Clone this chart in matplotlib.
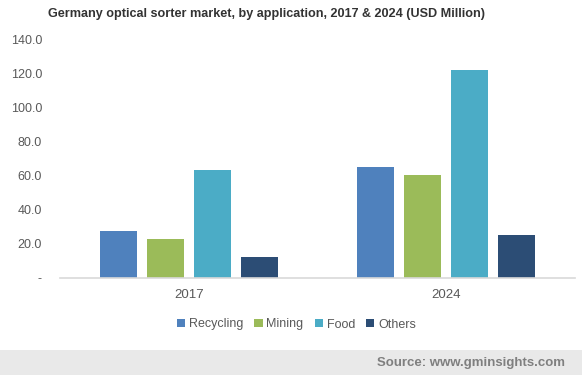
import matplotlib
matplotlib.use("Agg")
import matplotlib.pyplot as plt
import numpy as np
from matplotlib.patches import Rectangle

years = ["2017", "2024"]
series = ["Recycling", "Mining", "Food", "Others"]
recycling = [27.4, 65.0]
mining = [22.6, 60.3]
food = [63.2, 122.0]
others = [12.0, 25.0]
values = [recycling, mining, food, others]
colors = ["#4F81BD", "#9BBB59", "#4BACC6", "#2C4D75"]
yticks = [0, 20, 40, 60, 80, 100, 120, 140]
ytick_labels = ["-", "20.0", "40.0", "60.0", "80.0", "100.0", "120.0", "140.0"]

plt.rcParams['font.family'] = ['Liberation Sans', 'DejaVu Sans']

fig = plt.figure(figsize=(5.82, 3.75), dpi=100)
ax = fig.add_axes([60/582, (375-277.5)/375, (575-60)/582, (277.5-39.5)/375])

x = np.arange(len(years))
width = 0.144
step = 0.183
for i, (name, vals, c) in enumerate(zip(series, values, colors)):
    ax.bar(x + (i - 1.5) * step, vals, width, color=c, label=name)

ax.set_xlim(-0.5, 1.5)
ax.set_ylim(0, 140)
ax.set_yticks(yticks)
ax.set_yticklabels(ytick_labels)
ax.set_xticks(x)
ax.set_xticklabels(years)
for s in ["top", "right", "left"]:
    ax.spines[s].set_visible(False)
ax.spines["bottom"].set_color("#D9D9D9")
ax.spines["bottom"].set_linewidth(1.2)
ax.tick_params(axis="y", length=0, labelsize=9, labelcolor="#595959", pad=13)
ax.tick_params(axis="x", length=0, labelsize=9.5, labelcolor="#595959", pad=8)

leg = ax.legend(loc="upper center", bbox_to_anchor=(0.459, -0.125), ncol=4, frameon=False,
                fontsize=9, handlelength=0.65, handleheight=0.65, handletextpad=0.3,
                columnspacing=0.9)
for t in leg.get_texts():
    t.set_color("#595959")

fig.text(266/582, 1 - 14/375, "Germany optical sorter market, by application, 2017 & 2024 (USD Million)",
         ha="center", va="center", fontsize=9.1, fontweight="bold", color="#333333")

fig.patches.append(Rectangle((0, 0), 1, 25/375, transform=fig.transFigure,
                             facecolor="#E9E9E9", edgecolor="none", zorder=0))
fig.text(565/582, 12/375, "Source: www.gminsights.com", ha="right", va="center",
         fontsize=9.5, fontweight="bold", color="#7F7F7F")

fig.savefig("out.png", dpi=100)
